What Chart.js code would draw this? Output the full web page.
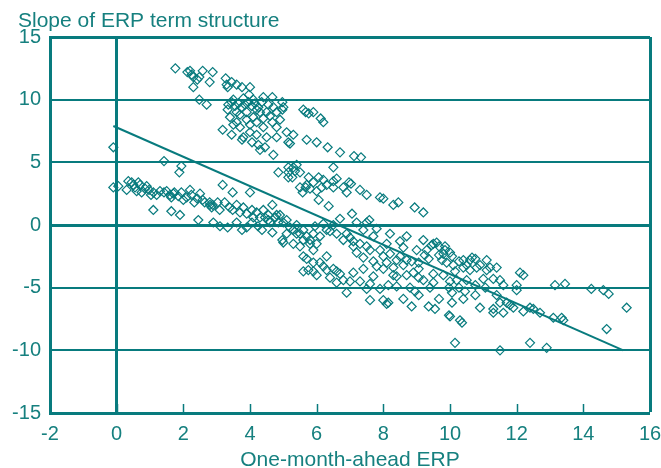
<!DOCTYPE html>
<html>
<head>
<meta charset="utf-8">
<script src="https://cdn.jsdelivr.net/npm/chart.js@4/dist/chart.umd.min.js"></script>
<style>
  html, body { margin: 0; padding: 0; background: #ffffff; }
  #wrap { width: 661px; height: 468px; }
</style>
</head>
<body>
<div id="wrap"><canvas id="c" width="661" height="468"></canvas></div>
<script>
// One-month-ahead ERP (x) vs slope of the ERP term structure (y), grouped by ERP range
const erpUnder3 = [
  [-0.1,6.2],[-0.1,3.0],[0.05,3.1],[0.3,2.8],[0.35,3.5],[0.45,3.4],[0.5,3.2],[0.55,3.0],[0.6,2.7],[0.65,3.4],
  [0.7,3.2],[0.75,2.6],[0.85,2.9],[0.9,3.1],[0.97,2.8],[1.03,2.4],[1.1,2.6],[1.2,2.4],[1.3,2.7],[1.42,2.6],
  [1.5,2.7],[1.6,2.4],[1.64,2.2],[1.7,2.5],[1.73,2.6],[1.85,2.3],[1.94,2.6],[2.0,2.0],[2.1,2.2],[2.2,2.8],
  [2.24,2.4],[2.33,1.8],[2.42,2.1],[2.5,2.5],[2.58,2.0],[2.64,1.8],[2.79,1.8],[2.8,1.6],[2.85,1.4],[2.88,1.6],
  [1.42,5.1],[1.94,4.7],[1.88,4.2],[1.1,1.2],[1.64,1.1],[1.9,0.8],[2.45,0.4],[2.9,0.2],
  [1.76,12.5],[2.12,12.2],[2.2,12.3],[2.25,12.0],[2.3,11.8],[2.48,11.8],[2.58,12.3],[2.42,11.6],[2.88,12.2],
  [2.79,11.4],[2.3,11.0],[2.48,10.0],[2.7,9.6]
];

const erp3to6 = [
  [3.03,1.8],[3.09,1.2],[3.18,3.2],[3.24,1.8],[3.39,1.4],[3.48,1.2],[3.48,2.6],[3.6,1.6],[3.7,1.0],[3.8,1.4],
  [3.9,0.9],[4.0,2.6],[4.06,1.2],[4.1,0.6],[4.2,1.0],[4.3,0.6],[4.4,1.2],[4.45,0.6],[4.55,0.8],[4.67,1.6],
  [4.6,0.2],[4.76,0.6],[4.85,0.2],[4.9,0.8],[5.0,0.2],[5.1,0.4],[5.2,-0.2],[5.3,-0.4],[5.4,0.0],[5.5,-0.7],
  [5.6,-0.4],[5.7,-0.9],[5.8,-1.2],[5.9,-0.7],[3.1,-0.1],[3.33,-0.2],[3.6,0.2],[3.76,-0.4],[3.9,-0.2],[4.06,0.2],
  [4.24,-0.1],[4.36,-0.4],[4.55,0.4],[4.67,-0.6],[4.97,-1.2],[5.0,-1.4],[5.3,-1.5],[5.5,-1.7],[5.8,-1.5],[5.9,-2.0],
  [5.1,-0.7],[5.4,-0.7],[5.6,-1.2],[4.8,0.8],[5.6,-2.5],[5.7,-2.7],[5.6,-3.7],[5.75,-3.6],[5.9,-3.7],[5.9,-3.0],
  [5.95,-0.1],
  [3.27,11.7],[3.3,11.2],[3.33,11.0],[3.45,11.4],[3.6,11.2],[3.76,11.0],[4.0,11.0],[3.97,10.4],[4.4,10.2],[4.67,10.2],
  [3.35,9.6],[3.45,9.8],[3.55,9.5],[3.65,9.7],[3.75,9.4],[3.85,9.6],[3.95,9.8],[4.05,9.5],[4.15,9.7],[4.25,9.4],
  [4.35,9.8],[4.55,9.6],[4.97,9.8],[5.0,9.4],[3.33,9.2],[3.4,8.6],[3.7,8.8],[3.9,9.0],[4.3,9.0],[4.5,9.0],
  [4.7,9.4],[4.8,9.0],[3.6,8.2],[3.7,7.8],[4.0,8.0],[4.2,8.2],[4.4,7.8],[4.67,8.2],[4.8,7.8],[3.18,7.6],
  [3.45,7.2],[3.8,7.0],[4.0,7.4],[4.2,7.2],[4.5,7.0],[4.8,7.0],[5.1,7.4],[5.3,7.2],[3.76,6.8],[4.06,6.6],
  [4.25,6.4],[4.3,6.0],[4.45,6.2],[4.7,5.6],[5.15,6.6],[4.85,4.2],[5.15,4.2],[5.3,4.6],[5.15,3.8],[4.97,9.2],
  [5.67,9.0],[5.76,8.9],[5.9,9.0],[5.6,9.2],[5.2,6.5],[5.7,6.8],[5.15,4.6],[5.4,4.8],[5.35,4.3],[5.5,4.2],
  [5.27,3.8],[5.76,3.8],[5.9,3.4],[5.67,3.0],[5.8,2.9],[5.58,2.6],[5.5,3.0],[5.7,3.2],
  [3.5,10.0],[3.8,10.1],[4.1,10.0],[4.2,9.2],[3.6,9.0],[4.4,8.5],[3.9,8.4],[3.5,8.0],[4.1,8.6],[4.6,8.7],[4.9,8.4]
];

const erp6to9 = [
  [6.0,-1.5],[6.1,-0.9],[6.12,8.5],[6.2,8.2],[6.0,6.6],[6.33,6.2],[6.7,5.8],[7.12,5.5],[7.33,5.4],[6.5,4.6],
  [6.06,3.8],[6.2,3.6],[6.0,2.7],[6.15,3.0],[6.5,3.5],[6.6,3.7],[6.8,3.0],[6.97,3.4],[7.03,3.3],[6.9,2.6],
  [7.3,2.8],[7.5,2.4],[6.06,2.0],[6.36,1.5],[7.9,2.2],[8.0,2.1],[8.3,1.6],[8.45,1.8],[8.94,1.4],[7.06,0.9],
  [7.58,0.4],[6.3,3.2],[6.5,3.0],
  [6.2,0.1],[6.5,0.0],[6.3,-0.4],[6.4,-0.5],[6.6,-0.7],[6.9,-0.7],[6.8,-1.2],[7.1,-1.3],[7.3,-1.5],[7.1,-1.7],
  [7.5,-1.7],[7.6,-2.0],[7.9,-2.0],[8.0,-2.5],[8.2,-2.3],[8.4,-2.8],[8.5,-2.5],[8.7,-2.8],[8.85,-2.9],[9.0,-2.0],
  [6.7,0.5],[7.2,0.2],[7.4,-0.4],[7.7,-0.9],[7.8,-0.3],[8.2,-0.7],[8.5,-1.3],[8.7,-0.9],[8.1,-1.5],[8.6,-1.8],
  [7.5,0.2],[7.0,-1.0],[7.2,-2.2],[7.4,-2.6],[7.7,-2.9],[7.8,-3.3],[8.1,-3.0],[8.3,-3.4],[8.6,-3.2],[8.9,-3.8],
  [6.1,-3.0],[6.3,-2.5],[6.3,-3.6],[6.5,-3.5],[6.6,-3.7],[6.7,-3.9],[6.8,-4.4],[7.0,-4.5],[6.9,-5.4],[7.3,-4.5],
  [7.5,-5.1],[7.6,-4.7],[7.6,-6.0],[7.9,-5.1],[8.0,-6.0],[8.1,-6.3],[8.15,-6.2],[8.15,-4.8],[8.4,-4.9],[8.4,-4.1],
  [8.0,-3.5],[8.3,-4.0],[8.7,-4.0],[8.6,-5.9],[8.85,-6.5],[8.95,-5.3],[6.2,-3.3],[6.0,-4.0],[6.4,-4.2],[6.6,-4.6],
  [7.1,-3.8],[7.4,-3.5],[7.7,-4.1],[8.8,-5.0]
];

const erpOver9 = [
  [9.2,1.0],[9.06,-3.0],[9.24,-2.4],[9.36,-2.7],[9.5,-1.5],[9.67,-1.7],[9.67,-2.4],[9.76,-2.8],[9.85,-2.0],[9.9,-3.0],
  [10.06,-2.5],[10.1,-3.2],[10.27,-2.9],[10.4,-3.4],[10.5,-4.4],[10.15,-3.7],[10.0,-4.5],[10.2,-4.4],[10.45,-5.3],[10.4,-5.9],
  [9.06,-3.5],[9.06,-4.2],[9.4,-5.0],[9.06,-5.6],[9.67,-5.9],[9.36,-6.5],[9.55,-6.7],[10.0,-7.3],[10.3,-7.6],[9.2,-1.2],
  [9.3,-2.0],[9.2,-4.4],[9.5,-3.9],[9.8,-4.0],[9.5,-4.6],[9.45,-1.6],[9.8,-2.3],[9.85,-1.7],[9.6,-1.4],[10.0,-2.2],
  [10.4,-2.8],[10.6,-2.8],[10.76,-2.7],[10.8,-3.4],[11.2,-3.4],[11.4,-3.4],[11.1,-3.6],[11.3,-4.3],[11.5,-4.4],[11.6,-4.8],
  [12.0,-4.8],[12.1,-3.8],[12.2,-4.0],[12.0,-5.2],[13.15,-4.8],[13.45,-4.7],[14.24,-5.1],[14.6,-5.2],[14.76,-5.5],[15.3,-6.6],
  [14.7,-8.3],[10.06,-6.2],[9.97,-7.2],[10.36,-7.8],[10.9,-6.6],[11.3,-7.0],[11.6,-7.0],[11.5,-6.2],[11.7,-6.2],[11.9,-6.6],
  [12.2,-6.9],[12.4,-6.6],[12.5,-6.7],[12.7,-7.0],[13.1,-7.4],[13.4,-7.6],[13.35,-7.4],[10.15,-9.4],[11.5,-10.0],[12.4,-9.4],
  [12.9,-9.8],[9.97,-5.0],[10.06,-5.4],[10.27,-5.0],[10.76,-5.6],[10.76,-4.8],[11.0,-4.3],[11.06,-5.0],[11.4,-5.6],[11.8,-6.4],
  [11.3,-6.7],[10.5,-3.2],[10.6,-3.6],[10.9,-3.2],[11.1,-2.8],[10.66,-2.6]
];

// Fitted regression line endpoints
const fitX = [-0.1, 15.2];
const fitY = [7.9, -10.0];

// Axis ticks
const xTicks = [-2, 0, 2, 4, 6, 8, 10, 12, 14, 16];
const yTicks = [-15, -10, -5, 0, 5, 10, 15];

const TEAL = '#087b7e';
const TEXT = '#16807f';
const FONT = "'Liberation Sans', Arial, Helvetica, sans-serif";

const scatterPoints = [...erpUnder3, ...erp3to6, ...erp6to9, ...erpOver9].map(([x, y]) => ({ x, y }));
const fitPoints = fitX.map((x, i) => ({ x, y: fitY[i] }));

// Chart title in the top-left corner and short inward tick marks on the x-axis
const decorations = {
  id: 'decorations',
  afterDraw(chart) {
    const { ctx, chartArea, scales } = chart;
    ctx.save();
    ctx.strokeStyle = TEAL;
    ctx.lineWidth = 1.5;
    xTicks.forEach(v => {
      if (v <= -2 || v >= 16) return;
      const px = Math.round(scales.x.getPixelForValue(v)) + 0.5;
      ctx.beginPath();
      ctx.moveTo(px, chartArea.bottom);
      ctx.lineTo(px, chartArea.bottom - 9);
      ctx.stroke();
    });
    ctx.fillStyle = TEXT;
    ctx.font = `21px ${FONT}`;
    ctx.textAlign = 'left';
    ctx.textBaseline = 'alphabetic';
    ctx.fillText('Slope of ERP term structure', 18, 27);
    ctx.restore();
  }
};

new Chart(document.getElementById('c'), {
  type: 'scatter',
  data: {
    datasets: [
      {
        data: fitPoints,
        showLine: true,
        borderColor: TEAL,
        borderWidth: 2,
        pointRadius: 0,
        fill: false
      },
      {
        data: scatterPoints,
        pointStyle: 'rectRot',
        pointRadius: 4.5,
        borderWidth: 1.2,
        borderColor: TEAL,
        backgroundColor: 'rgba(255,255,255,0)'
      }
    ]
  },
  options: {
    responsive: false,
    animation: false,
    devicePixelRatio: 1,
    layout: { padding: { left: 0, right: 11, top: 37, bottom: 0 } },
    plugins: { legend: { display: false }, tooltip: { enabled: false } },
    scales: {
      x: {
        type: 'linear',
        min: -2,
        max: 16,
        afterBuildTicks: s => { s.ticks = xTicks.map(v => ({ value: v })); },
        afterFit: s => { s.height = 55; s.paddingLeft = 0; s.paddingRight = 0; },
        ticks: { color: TEXT, font: { family: FONT, size: 20 }, padding: 9, maxRotation: 0 },
        grid: {
          drawTicks: false,
          color: c => (c.tick && (c.tick.value === 0 || c.tick.value === 16)) ? TEAL : 'rgba(0,0,0,0)',
          lineWidth: c => (c.tick && (c.tick.value === 0 || c.tick.value === 16)) ? 3 : 0
        },
        border: { display: true, color: TEAL, width: 3 },
        title: {
          display: true,
          text: 'One-month-ahead ERP',
          color: TEXT,
          font: { family: FONT, size: 21, lineHeight: 1 },
          padding: { top: 0, bottom: -3 }
        }
      },
      y: {
        type: 'linear',
        min: -15,
        max: 15,
        afterBuildTicks: s => { s.ticks = yTicks.map(v => ({ value: v })); },
        afterFit: s => { s.width = 50; s.paddingTop = 0; s.paddingBottom = 0; },
        ticks: { color: TEXT, font: { family: FONT, size: 20 }, padding: 9 },
        grid: {
          drawTicks: false,
          color: TEAL,
          lineWidth: c => {
            const v = c.tick ? c.tick.value : null;
            if (v === 0 || v === 15) return 3;
            if (v === -15) return 0;
            return 2;
          }
        },
        border: { display: true, color: TEAL, width: 3 }
      }
    }
  },
  plugins: [decorations]
});
</script>
</body>
</html>
